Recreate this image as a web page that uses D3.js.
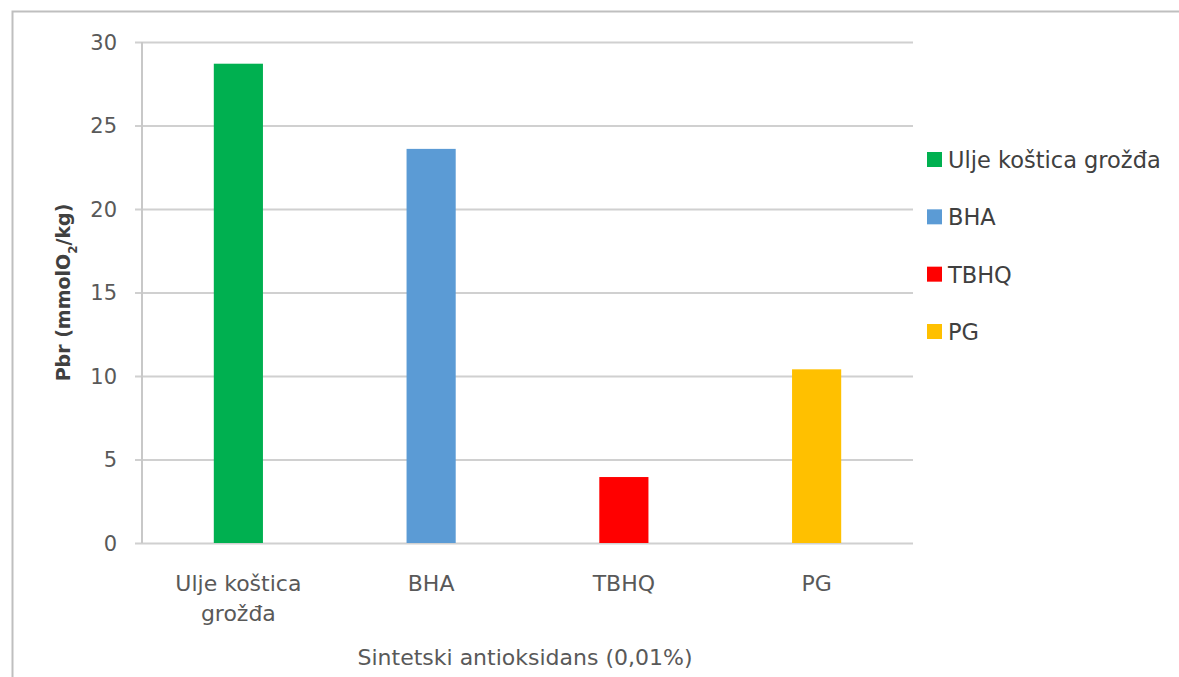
<!DOCTYPE html>
<html>
<head>
<meta charset="utf-8">
<script src="https://cdn.jsdelivr.net/npm/d3@7/dist/d3.min.js"></script>
<style>
  html, body { margin: 0; padding: 0; background: #fff; }
  svg { display: block; }
  text { font-family: "DejaVu Sans", sans-serif; fill: #595959; }
</style>
</head>
<body>
<svg id="chart" width="1179" height="677"></svg>
<script>
const categories = ["Ulje koštica grožđa", "BHA", "TBHQ", "PG"];
const categoryLabelLines = [["Ulje koštica", "grožđa"], ["BHA"], ["TBHQ"], ["PG"]];
const values = [28.7, 23.6, 3.95, 10.4];
const colors = ["#00B050", "#5B9BD5", "#FF0000", "#FFC000"];
const yTicks = [0, 5, 10, 15, 20, 25, 30];
const xTitle = "Sintetski antioksidans (0,01%)";

const svg = d3.select("#chart");
const W = 1179, H = 677;
const plot = { left: 142, right: 913, top: 42, bottom: 543 };

// outer frame
svg.append("rect")
  .attr("x", 12.5).attr("y", 11.5)
  .attr("width", W + 20).attr("height", H + 20)
  .attr("fill", "none").attr("stroke", "#bfbfbf").attr("stroke-width", 2);

const x = d3.scaleBand().domain(categories).range([plot.left, plot.right]).padding(0);
const y = d3.scaleLinear().domain([0, 30]).range([plot.bottom, plot.top]);

// gridlines + y axis
const yAxis = d3.axisLeft(y).tickValues(yTicks).tickSize(-(plot.right - plot.left)).tickPadding(0).tickFormat(d3.format("d"));
const gy = svg.append("g").attr("transform", `translate(${plot.left},0)`).call(yAxis);
gy.select(".domain").remove();
gy.selectAll(".tick line").attr("stroke", "#d0d0d0").attr("stroke-width", 2).attr("x1", -7);
gy.selectAll(".tick text").attr("x", -25).attr("dy", "0.35em")
  .style("font-size", "21px").style("fill", "#595959")
  .attr("font-family", null);

// vertical axis line
svg.append("line")
  .attr("x1", plot.left).attr("x2", plot.left)
  .attr("y1", y(30)).attr("y2", y(0))
  .attr("stroke", "#c8c8c8").attr("stroke-width", 2);

// bars
const barW = x.bandwidth() * 0.255;
svg.append("g").selectAll("rect").data(categories).join("rect")
  .attr("x", d => x(d) + x.bandwidth() / 2 - barW / 2)
  .attr("width", barW)
  .attr("y", (d, i) => y(values[i]))
  .attr("height", (d, i) => y(0) - y(values[i]))
  .attr("fill", (d, i) => colors[i]);

// category labels
const gx = svg.append("g");
categories.forEach((c, i) => {
  const t = gx.append("text")
    .attr("x", x(c) + x.bandwidth() / 2)
    .attr("y", 591)
    .attr("text-anchor", "middle")
    .style("font-size", "22px");
  categoryLabelLines[i].forEach((ln, j) => {
    t.append("tspan").attr("x", x(c) + x.bandwidth() / 2).attr("dy", j === 0 ? 0 : 30).text(ln);
  });
});

// x axis title
svg.append("text")
  .attr("x", 525).attr("y", 665)
  .attr("text-anchor", "middle")
  .style("font-size", "22px")
  .text(xTitle);

// y axis title
const yt = svg.append("text")
  .attr("transform", `translate(70,${(plot.top + plot.bottom) / 2}) rotate(-90)`)
  .attr("text-anchor", "middle")
  .style("font-size", "19px").style("font-weight", "bold").style("fill", "#404040");
yt.append("tspan").text("Pbr (mmolO");
yt.append("tspan").attr("baseline-shift", "sub").style("font-size", "12px").text("2");
yt.append("tspan").text("/kg)");

// legend
const legend = svg.append("g");
const legendY = d3.scalePoint().domain(categories).range([160, 332]);
categories.forEach((c, i) => {
  const ly = legendY(c);
  legend.append("rect")
    .attr("x", 927).attr("y", ly - 8)
    .attr("width", 15).attr("height", 15)
    .attr("fill", colors[i]);
  legend.append("text")
    .attr("x", 948).attr("y", ly)
    .attr("dy", "0.35em")
    .style("font-size", "22.5px").style("fill", "#404040")
    .text(c);
});
</script>
</body>
</html>
